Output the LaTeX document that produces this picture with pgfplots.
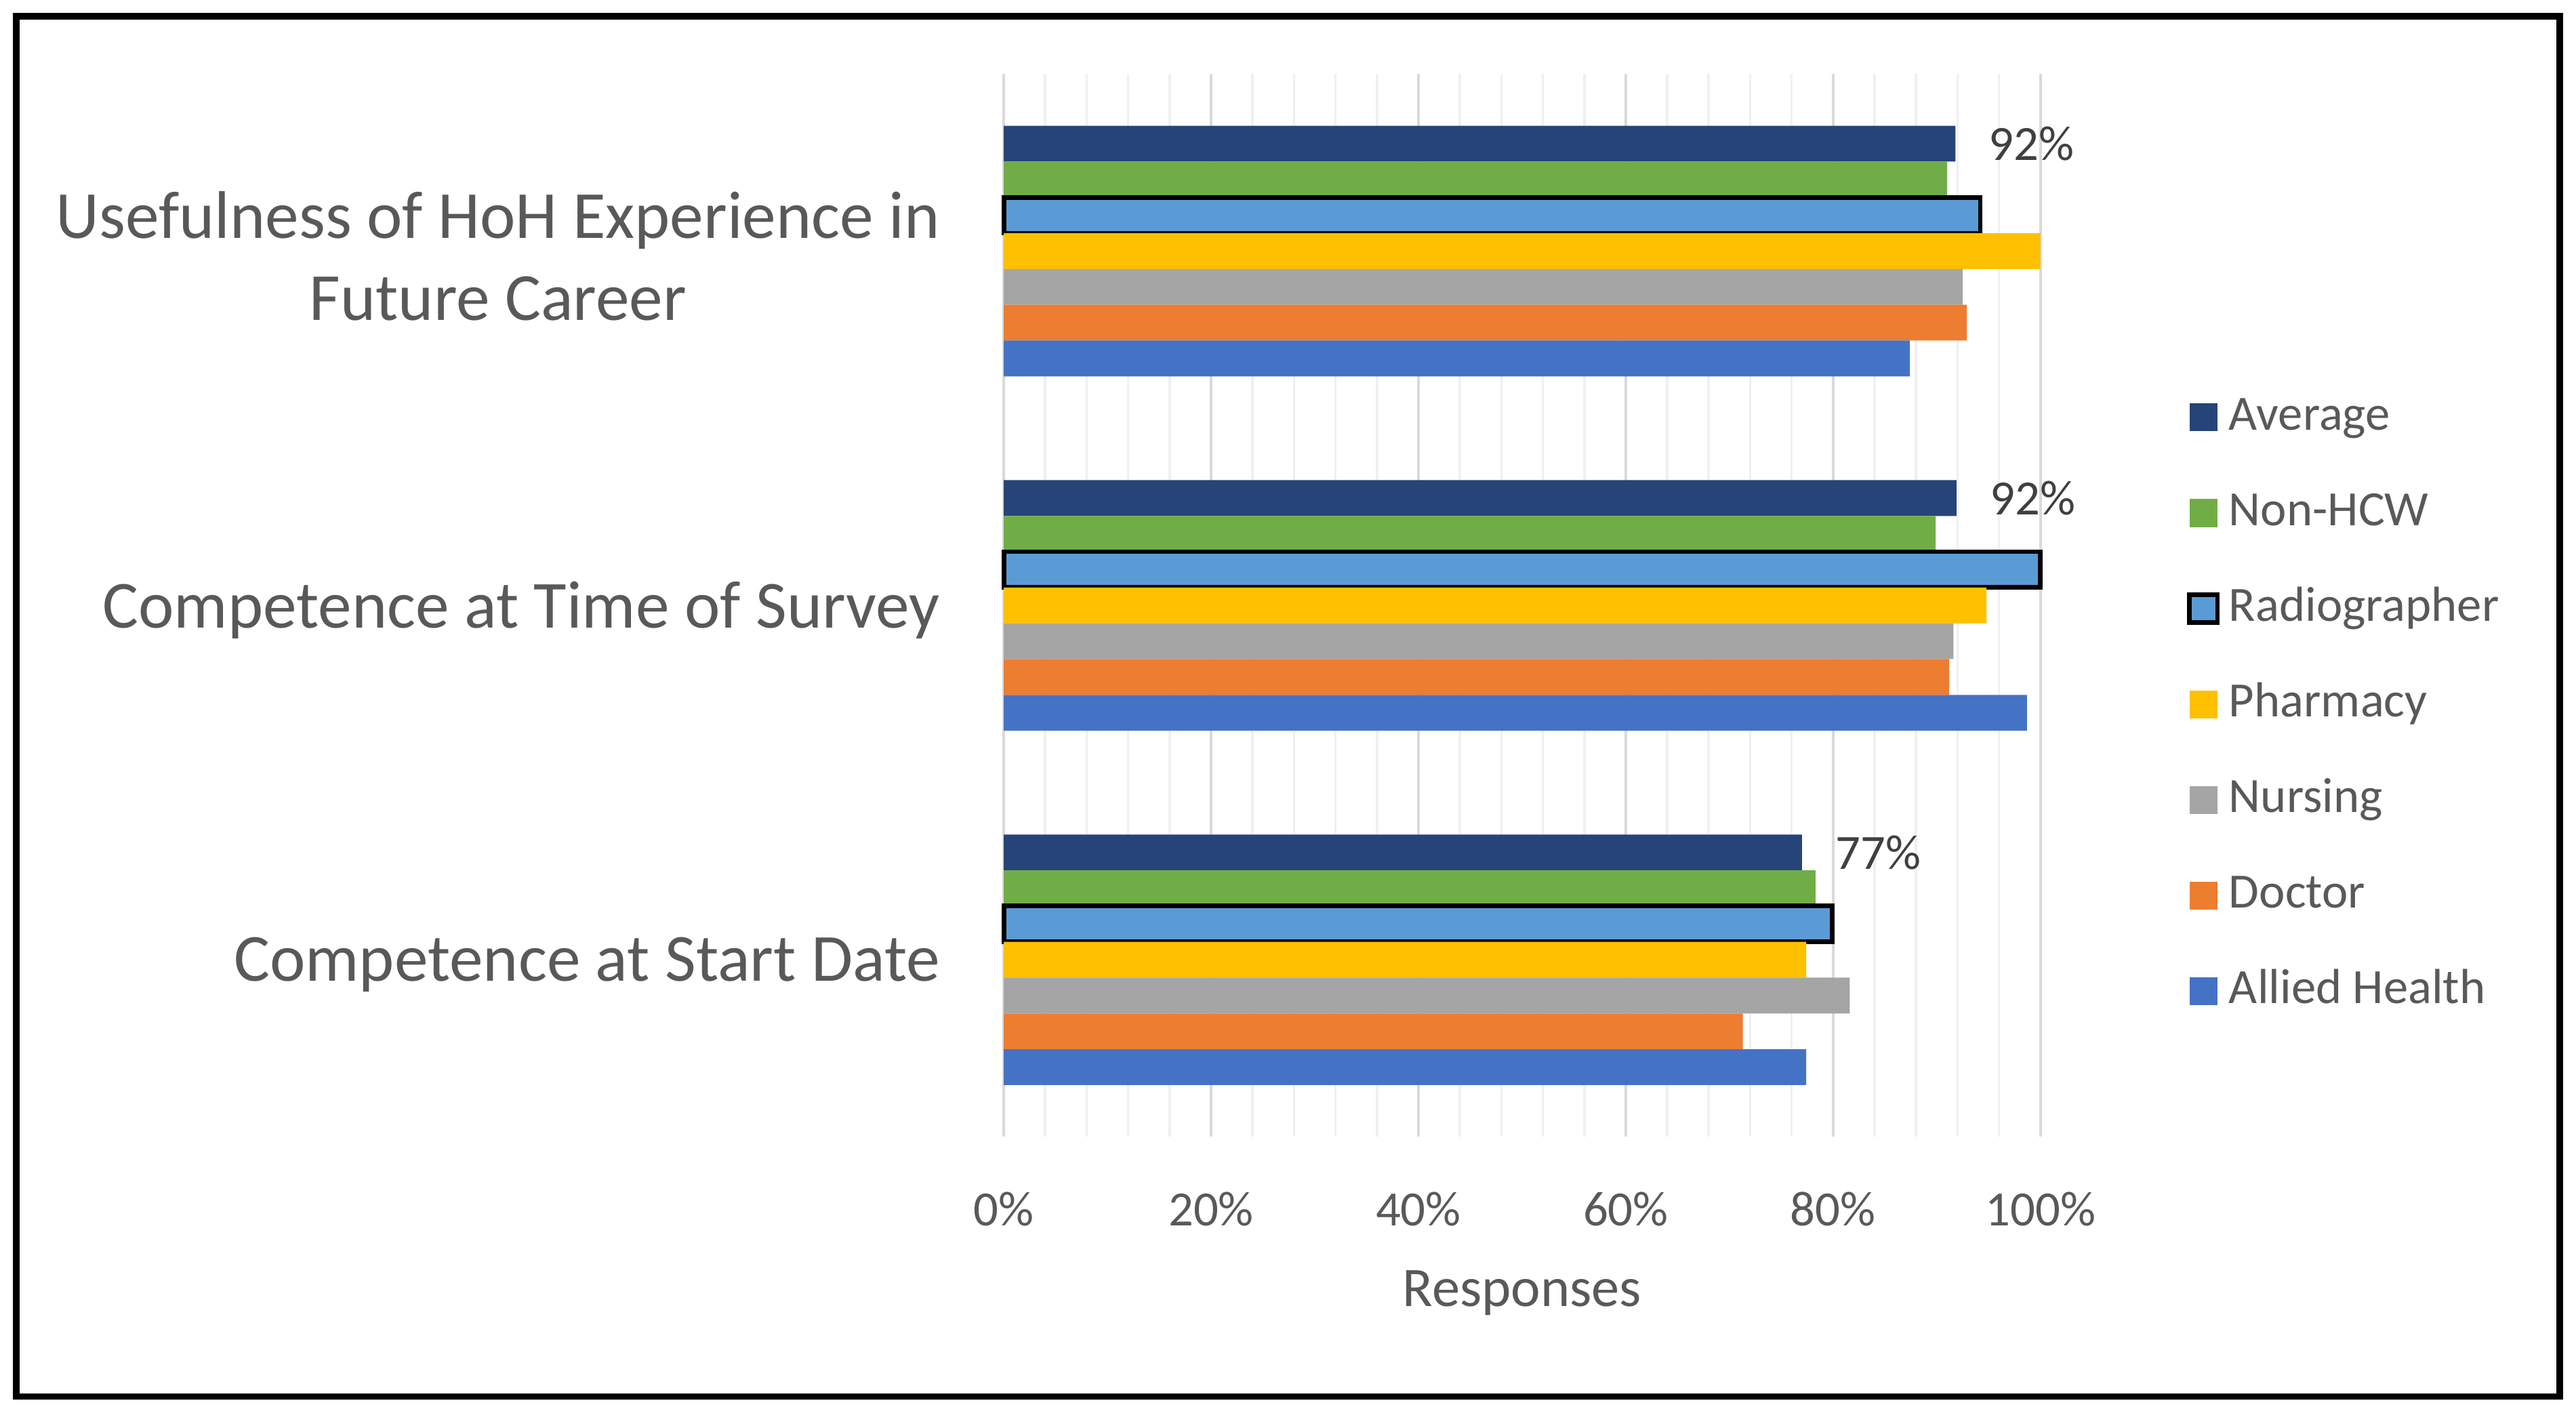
\documentclass[border=0pt]{standalone}
\usepackage{pgfplots}
\pgfplotsset{compat=1.18}
\usepackage{fontspec}
\setmainfont{Carlito}
\definecolor{cavg}{HTML}{264478}
\definecolor{chcw}{HTML}{70AD47}
\definecolor{crad}{HTML}{5B9BD5}
\definecolor{cpha}{HTML}{FFC000}
\definecolor{cnur}{HTML}{A5A5A5}
\definecolor{cdoc}{HTML}{ED7D31}
\definecolor{call}{HTML}{4472C4}
\definecolor{txt}{HTML}{595959}
\definecolor{dlab}{HTML}{404040}
\definecolor{gmaj}{HTML}{D9D9D9}
\definecolor{gmin}{HTML}{F0F0F0}
\begin{document}
\begin{tikzpicture}
\path[use as bounding box] (-305.5pt,-81.5pt) rectangle (478.5pt,346pt);
\draw[line width=2pt] (-300.5pt,-79pt) rectangle (473.5pt,341pt);
\begin{axis}[
  at={(0pt,0pt)}, anchor=south west,
  scale only axis, width=315.5pt, height=323.5pt,
  xbar, bar width=0.101,
  clip=false,
  /pgf/number format/assume math mode=true,
  xmin=0, xmax=100, ymin=-0.5, ymax=2.5,
  xtick={0,20,...,100},
  xticklabels={0\%,20\%,40\%,60\%,80\%,100\%},
  minor x tick num=4,
  xmajorgrids, xminorgrids,
  major grid style={color=gmaj, line width=0.9pt},
  minor grid style={color=gmin, line width=0.75pt},
  ytick={0,1,2},
  yticklabels={Competence at Start Date,Competence at Time of Survey,{Usefulness of HoH Experience in\\Future Career}},
  axis line style={draw=none},
  tick style={draw=none},
  xticklabel style={font=\fontsize{15}{18}\selectfont, text=txt, anchor=base, inner sep=0pt, yshift=-27pt},
  yticklabel style={font=\fontsize{20.5}{25}\selectfont, text=txt, anchor=east, align=center, inner sep=0pt, xshift=-15pt, yshift=-1.5pt},
  xlabel={Responses},
  xlabel style={font=\fontsize{17}{20}\selectfont, text=txt, at={(axis description cs:0.5,0)}, anchor=base, inner sep=0pt, yshift=-51.5pt},
  legend image code/.code={\path[#1] (0pt,-4.25pt) rectangle (8.5pt,4.25pt);},
  legend cell align=left,
  legend style={draw=none, fill=none, at={(1.141,0.407)}, anchor=west,
    font=\fontsize{15}{18}\selectfont, text=txt, inner sep=0pt, row sep=15.6pt,
    nodes={inner sep=0pt, text height=10.5pt, text depth=3pt},
    /tikz/every odd column/.append style={column sep=2.8pt}},
]
\addplot[fill=cavg, draw=none, bar shift=0.303, point meta=x,
  nodes near coords={\pgfmathprintnumber[fixed,precision=0]{\pgfplotspointmeta}\%},
  nodes near coords style={font=\fontsize{15}{18}\selectfont, text=dlab, inner sep=0pt, anchor=west, xshift=10pt}]
  coordinates {(77.0,0) (91.9,1) (91.8,2)};
\addplot[fill=chcw, draw=none, bar shift=0.202] coordinates {(78.3,0) (89.9,1) (91.0,2)};
\addplot[fill=crad, draw=black, line width=1.4pt, bar shift=0.101] coordinates {(79.9,0) (100,1) (94.2,2)};
\addplot[fill=cpha, draw=none, bar shift=0] coordinates {(77.4,0) (94.8,1) (100,2)};
\addplot[fill=cnur, draw=none, bar shift=-0.101] coordinates {(81.6,0) (91.6,1) (92.5,2)};
\addplot[fill=cdoc, draw=none, bar shift=-0.202] coordinates {(71.3,0) (91.2,1) (92.9,2)};
\addplot[fill=call, draw=none, bar shift=-0.303] coordinates {(77.4,0) (98.7,1) (87.4,2)};
\legend{Average,Non-HCW,Radiographer,Pharmacy,Nursing,Doctor,Allied Health}
\end{axis}
\end{tikzpicture}
\end{document}
